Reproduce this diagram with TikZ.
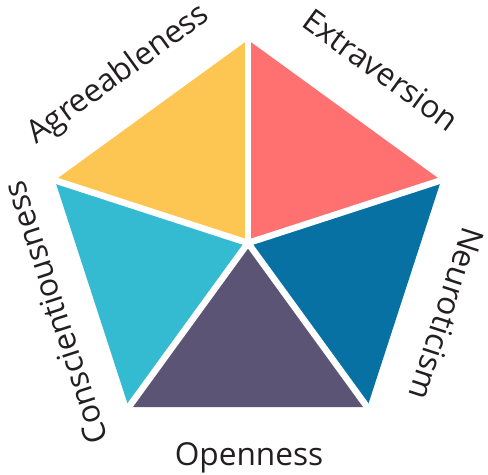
\documentclass[tikz,border=0pt]{standalone}
\usepackage{fontspec}
\setmainfont{Open Sans}
\usetikzlibrary{calc}
\definecolor{agreeyellow}{RGB}{253,198,82}
\definecolor{extrared}{RGB}{255,112,112}
\definecolor{neuroblue}{RGB}{7,113,164}
\definecolor{openpurple}{RGB}{91,84,116}
\definecolor{conscyan}{RGB}{53,187,209}
\definecolor{labelgray}{RGB}{35,31,32}

\begin{document}
\begin{tikzpicture}[x=0.02cm, y=-0.02cm,
    gapline/.style={draw=white, line width=0.13cm},
    trait/.style={font=\fontsize{18}{20}\selectfont, text=labelgray, inner sep=0pt}]
  \useasboundingbox (0,0) rectangle (488,475);

  % pentagon corners
  \coordinate (c) at (248, 243);
  \coordinate (vtop) at (248, 40);
  \coordinate (vright) at (441.1, 180.3);
  \coordinate (vbr) at (367.3, 407.2);
  \coordinate (vbl) at (128.7, 407.2);
  \coordinate (vleft) at (54.9, 180.3);

  % the five slices
  \fill[extrared] (c) -- (vtop) -- (vright) -- cycle;
  \fill[neuroblue] (c) -- (vright) -- (vbr) -- cycle;
  \fill[openpurple] (c) -- (vbr) -- (vbl) -- cycle;
  \fill[conscyan] (c) -- (vbl) -- (vleft) -- cycle;
  \fill[agreeyellow] (c) -- (vleft) -- (vtop) -- cycle;

  % white gaps between slices
  \draw[gapline] (c) -- ($(c)!1.05!(vtop)$);
  \draw[gapline] (c) -- ($(c)!1.05!(vright)$);
  \draw[gapline] (c) -- ($(c)!1.05!(vbr)$);
  \draw[gapline] (c) -- ($(c)!1.05!(vbl)$);
  \draw[gapline] (c) -- ($(c)!1.05!(vleft)$);

  % labels
  \node[trait, rotate=-36] (extra) at (381, 70) {Extraversion};
  \node[trait, rotate=36] (agree) at (119, 75) {Agreeableness};
  \node[trait, rotate=-108] (neuro) at (447, 314) {Neuroticism};
  \node[trait, rotate=108] (consc) at (55, 313) {Conscientiousness};
  \node[trait, anchor=base] (open) at (249, 466) {Openness};
\end{tikzpicture}
\end{document}
